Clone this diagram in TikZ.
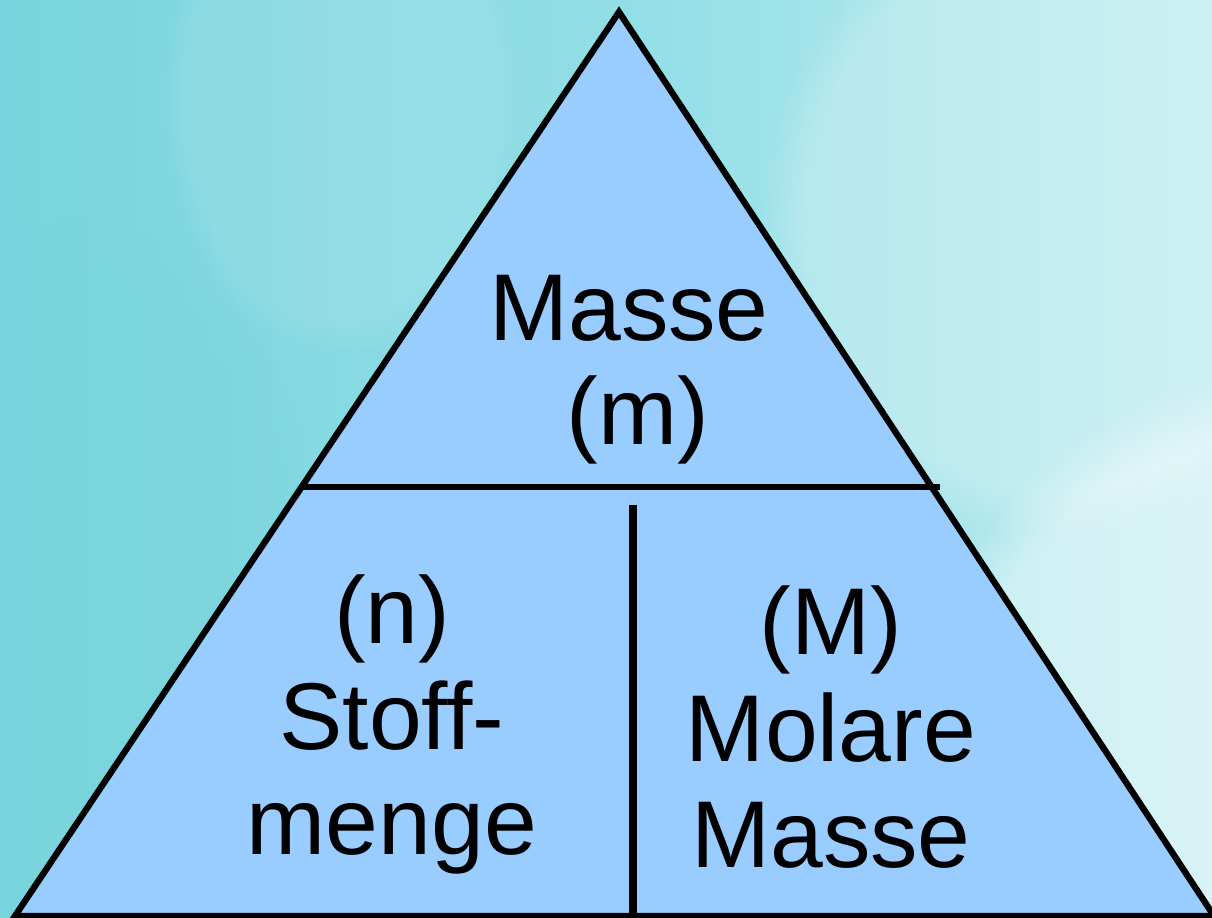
\documentclass[tikz,border=0pt]{standalone}
\usepackage{fontspec}
\setmainfont{Liberation Sans}
\usetikzlibrary{fadings}
\definecolor{bgleft}{RGB}{120,212,220}
\definecolor{bgmid}{RGB}{145,222,230}
\definecolor{bgright}{RGB}{192,236,240}
\definecolor{fieldblue}{RGB}{153,204,255}
\tikzset{
  edge/.style={line width=1.8pt, line join=miter},
  label/.style={anchor=base, inner sep=0pt, font=\fontsize{27}{32}\selectfont},
  haze/.style={path fading=circle with fuzzy edge 15 percent},
}
\begin{document}
\begin{tikzpicture}
% backdrop
\useasboundingbox (0,0) rectangle (12.12,9.18);
\shade[left color=bgleft, right color=bgright, middle color=bgmid] (0,0) rectangle (12.12,9.18);
\fill[white, opacity=0.40, haze] (12.6,1.2) ellipse (3.6 and 4.2);
\fill[white, opacity=0.22, haze] (10.6,7.0) ellipse (3.0 and 3.2);
\fill[white, opacity=0.10, haze] (3.4,8.2) ellipse (1.8 and 2.6);
\fill[bgleft, opacity=0.35, haze] (0.8,3.0) ellipse (2.5 and 4.0);
% triangle corners and dividers
\coordinate (apex) at (6.19,9.06);
\coordinate (bl) at (0.15,0.02);
\coordinate (br) at (12.14,0.02);
\coordinate (hl) at (3.02,4.31);
\coordinate (hr) at (9.40,4.31);
\coordinate (vt) at (6.33,4.13);
\coordinate (vb) at (6.33,0.0);
\fill[fieldblue] (apex) -- (bl) -- (br) -- cycle;
\draw[edge] (apex) -- (bl) -- (br) -- cycle;
\draw[edge] (hl) -- (hr);
\draw[line width=2pt] (vt) -- (vb);
% quantities
\node[label] (m1) at (6.29,5.77) {Masse};
\node[label] (m2) at (6.38,4.73) {(m)};
\node[label] (n1) at (3.92,2.74) {(n)};
\node[label] (n2) at (3.92,1.68) {Stoff-};
\node[label] (n3) at (3.92,0.63) {menge};
\node[label] (M1) at (8.31,2.63) {(M)};
\node[label] (M2) at (8.31,1.56) {Molare};
\node[label] (M3) at (8.31,0.50) {Masse};
\end{tikzpicture}
\end{document}
